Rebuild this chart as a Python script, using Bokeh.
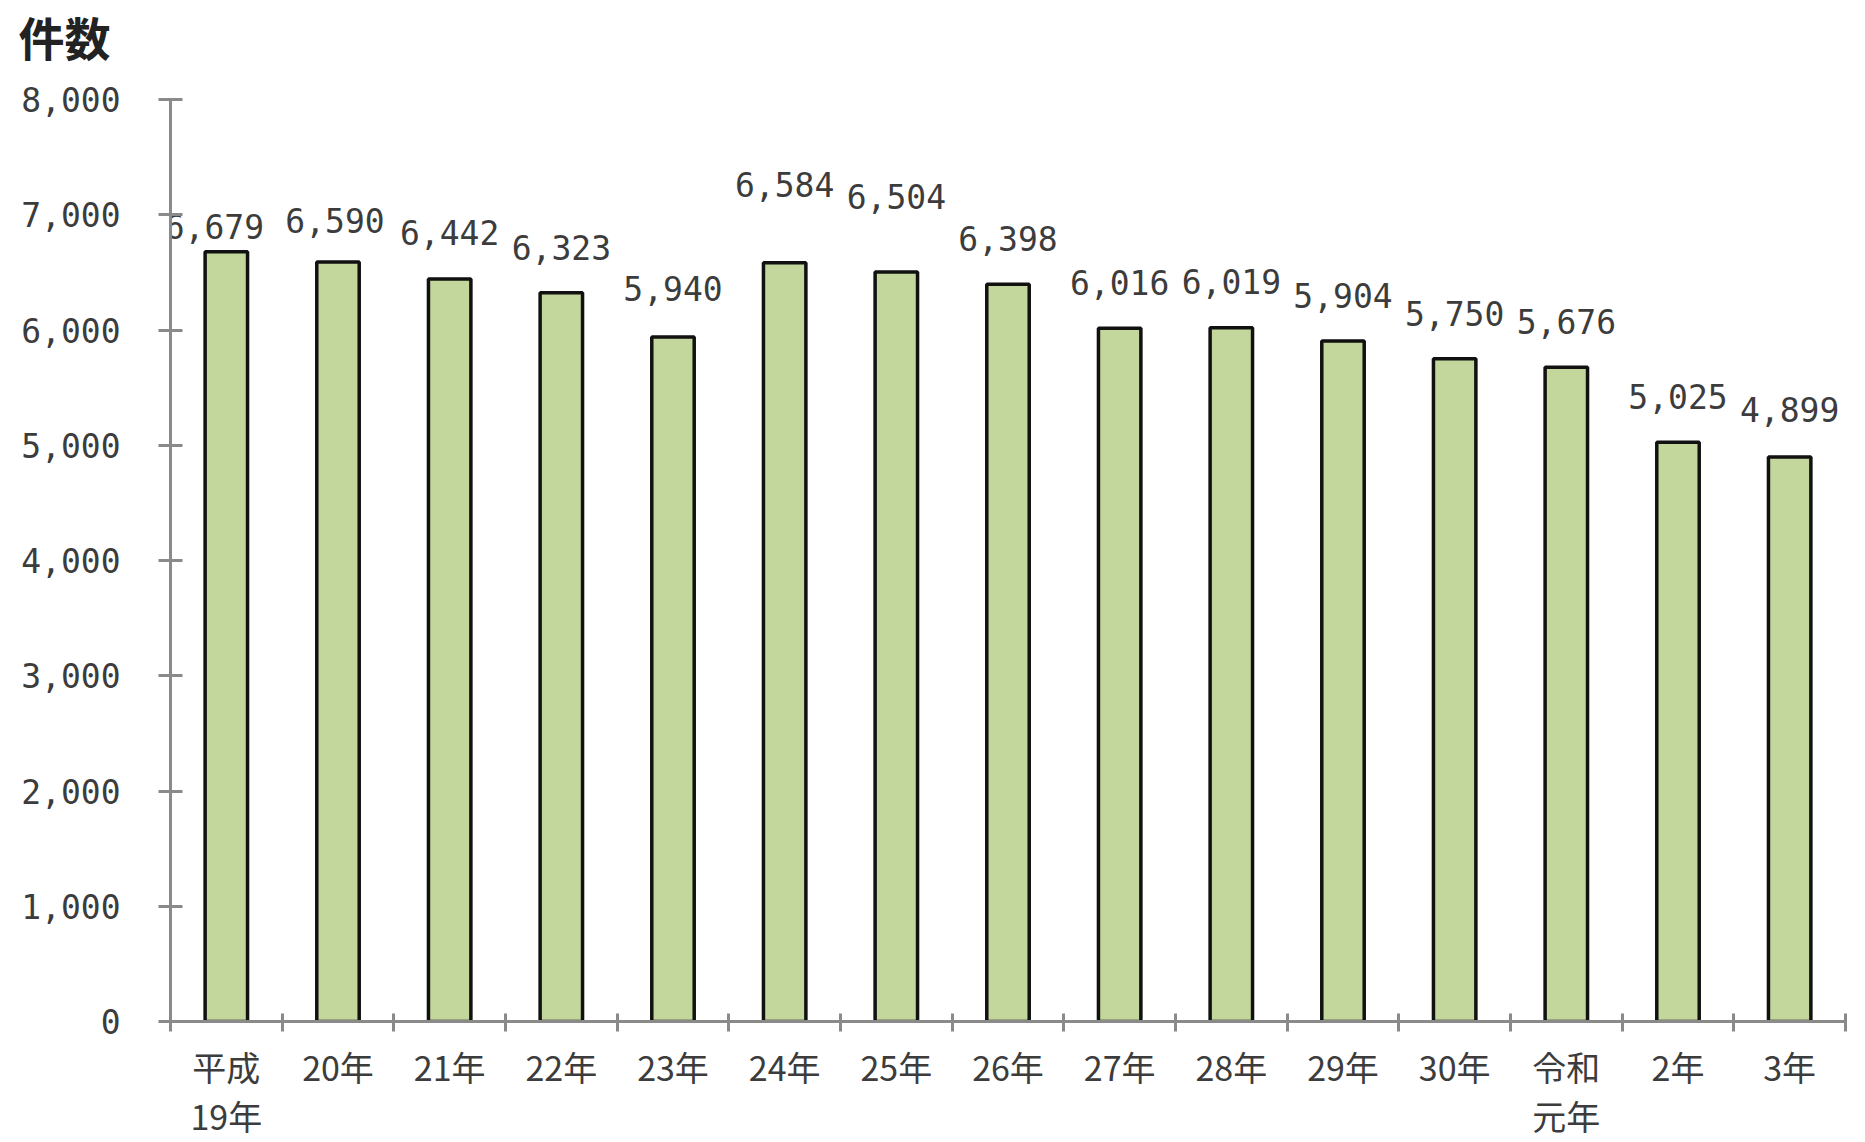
from bokeh.plotting import figure
from bokeh.models import Range1d, FixedTicker, CustomJSTickFormatter, NumeralTickFormatter, ColumnDataSource, Title
from bokeh.embed import file_html
from bokeh.resources import INLINE
from bokeh.core.properties import value

categories = ["平成\n19年", "20年", "21年", "22年", "23年", "24年", "25年", "26年",
              "27年", "28年", "29年", "30年", "令和\n元年", "2年", "3年"]
counts = [6679, 6590, 6442, 6323, 5940, 6584, 6504, 6398, 6016, 6019, 5904, 5750, 5676, 5025, 4899]
count_labels = ["6,679", "6,590", "6,442", "6,323", "5,940", "6,584", "6,504", "6,398",
                "6,016", "6,019", "5,904", "5,750", "5,676", "5,025", "4,899"]
y_ticks = [0, 1000, 2000, 3000, 4000, 5000, 6000, 7000, 8000]
# label placement (pixels above bar top, horizontal shift) as in the original chart
label_raise_px = [25, 42, 47, 45, 48, 78, 75, 46, 46, 46, 46, 45, 46, 46, 47]
label_shift_px = [-12, -3, 0, 0, 0, 0, 0, 0, 0, 0, 0, 0, 0, 0, 0]

n = len(categories)
centers = [i + 0.5 for i in range(n)]
bounds = [float(i) for i in range(n + 1)]

NUM_FONT = "DejaVu Sans Mono"
CJK_FONT = "Noto Sans CJK JP"
TXT = "#3c3c3c"
AXIS = "#8a8a8a"

p = figure(width=1849, height=1142, output_backend="svg", toolbar_location=None,
           x_range=Range1d(0, n), y_range=Range1d(0, 8000),
           min_border_left=170, min_border_right=4, min_border_top=99, min_border_bottom=100)
p.outline_line_color = None
p.xgrid.grid_line_color = None
p.ygrid.grid_line_color = None
p.background_fill_color = "white"
p.border_fill_color = "white"

# trailing blank line lifts the title towards the top edge
p.title = Title(text="件数\n", align="left", offset=-152, standoff=0,
                text_font=CJK_FONT, text_font_size="46px", text_font_style="bold",
                text_line_height=0.46, text_color="#222222")

src = ColumnDataSource(dict(x=centers, top=counts, lab=count_labels,
                            dy=[-v for v in label_raise_px], dx=label_shift_px))
p.vbar(x="x", top="top", width=0.38, bottom=0, source=src,
       fill_color="#c3d69b", line_color="#111111", line_width=3.5)
p.text(x="x", y="top", text="lab", source=src, x_offset="dx", y_offset="dy",
       text_align="center", text_baseline="middle",
       text_font=value(NUM_FONT), text_font_size="33px", text_color=TXT)

# y axis
ya = p.yaxis[0]
ya.ticker = FixedTicker(ticks=y_ticks)
ya.formatter = NumeralTickFormatter(format="0,0")
ya.major_label_text_font = NUM_FONT
ya.major_label_text_font_size = "33px"
ya.major_label_text_color = TXT
ya.major_label_standoff = 38
ya.axis_line_color = AXIS
ya.axis_line_width = 3
ya.major_tick_line_color = AXIS
ya.major_tick_line_width = 3
ya.major_tick_in = 12
ya.major_tick_out = 12
ya.minor_tick_line_color = None

# x axis
xa = p.xaxis[0]
xa.ticker = FixedTicker(ticks=centers, minor_ticks=bounds)
xa.formatter = CustomJSTickFormatter(args=dict(labels=categories),
                                     code="return labels[Math.floor(tick)];")
xa.major_label_text_font = CJK_FONT
xa.major_label_text_font_size = "34px"
xa.major_label_text_line_height = 1.0
xa.major_label_text_color = TXT
xa.major_label_standoff = 10
xa.major_tick_line_color = None
xa.major_tick_in = 0
xa.major_tick_out = 0
xa.minor_tick_line_color = AXIS
xa.minor_tick_line_width = 3
xa.minor_tick_in = 8
xa.minor_tick_out = 10
xa.axis_line_color = AXIS
xa.axis_line_width = 3

open("out.html", "w").write(file_html(p, INLINE))
